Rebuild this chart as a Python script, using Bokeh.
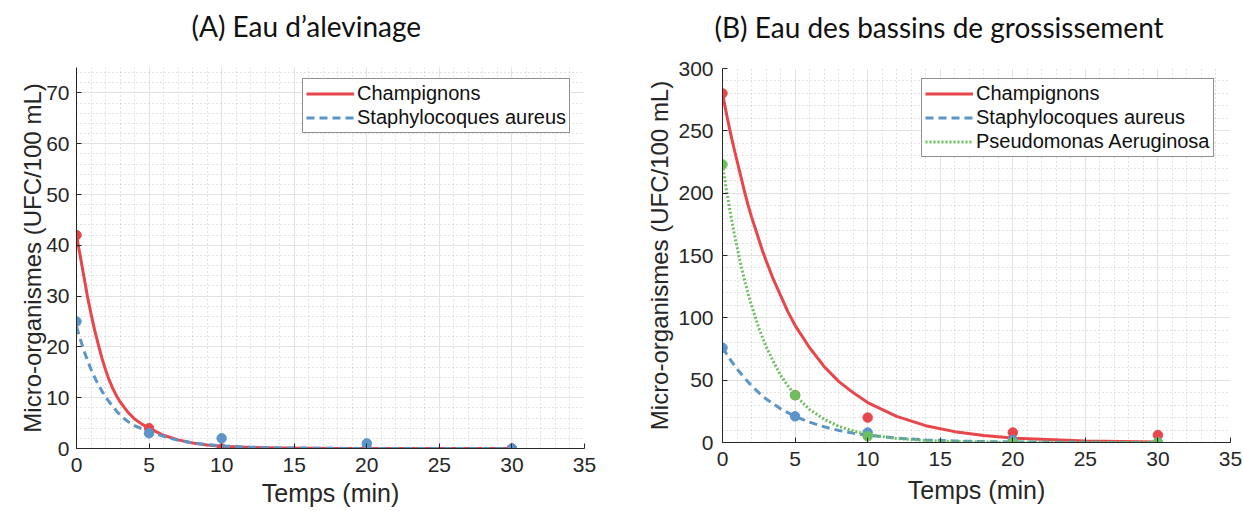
from bokeh.plotting import figure
from bokeh.layouts import row, column
from bokeh.models import SingleIntervalTicker, Legend, LegendItem, Range1d, Title
from bokeh.embed import file_html
from bokeh.resources import INLINE

# Sampling times (min)
t_obs = [0, 5, 10, 20, 30]

# (A) Eau d'alevinage - counts (UFC/100 mL)
a_champ = [42, 4, 0, 0, 0]
a_staph = [25, 3, 2, 1, 0]

# (B) Eau des bassins de grossissement - counts (UFC/100 mL)
b_champ = [280, 38, 20, 8, 6]
b_staph = [76, 21, 8, 2, 0]
b_pseudo = [223, 38, 5, 0, 0]

# Fitted decay curves, tabulated
t_fit = [0, 0.25, 0.5, 0.75, 1, 1.25, 1.5, 1.75, 2, 2.25, 2.5, 2.75, 3, 3.5, 4, 4.5, 5,
         6, 7, 8, 9, 10, 12, 14, 16, 18, 20, 25, 30]
a_champ_fit = [42, 38, 34, 30, 26.5, 23.3, 20.5, 17.8, 15.5, 13.5, 11.8, 10.4, 9.2, 7.3, 5.8, 4.8, 4.0,
               2.6, 1.7, 1.1, 0.7, 0.45, 0.2, 0.08, 0.03, 0.01, 0, 0, 0]
a_staph_fit = [24, 21.6, 19.4, 17.4, 15.6, 14.0, 12.6, 11.3, 10.2, 9.2, 8.3, 7.4, 6.6, 5.4, 4.5, 3.9, 3.4,
               2.4, 1.6, 1.1, 0.75, 0.5, 0.25, 0.12, 0.06, 0.03, 0.01, 0, 0]
b_champ_fit = [280, 265, 251, 238, 226, 214, 202, 191, 181, 172, 163, 154, 146, 131, 118, 105, 94,
               76, 61, 49, 40, 32, 21, 13.5, 8.7, 5.6, 3.6, 1.2, 0.4]
b_staph_fit = [76, 71.5, 67, 63, 59, 55.5, 52, 48.7, 45.5, 42.7, 40, 37.4, 35, 31, 27, 24, 21,
               16.3, 12.6, 9.7, 7.5, 5.8, 3.5, 2.1, 1.25, 0.75, 0.45, 0.12, 0.03]
b_pseudo_fit = [223, 204, 187, 171, 157, 143, 131, 120, 110, 101, 92, 84.5, 77, 65, 54, 45.5, 38,
                26.5, 18.7, 13, 9.2, 6.4, 3.2, 1.6, 0.77, 0.38, 0.19, 0.03, 0]

RED = "#E8464B"
BLUE = "#5B95C7"
GREEN = "#6CBF5E"
AXIS_FONT = "Liberation Sans"
TITLE_FONT = "Lato"
TEXT = "#262626"


def make_panel(title, title_offset, ymax, ystep, width, borders, series,
               legend_xy, ylabel_standoff, xlabel_standoff):
    left, right, top, bottom = borders
    p = figure(width=width, height=511, output_backend="svg", toolbar_location=None,
               x_range=Range1d(0, 35), y_range=Range1d(0, ymax),
               min_border_left=left, min_border_right=right,
               min_border_top=top, min_border_bottom=bottom)
    p.outline_line_color = None
    p.background_fill_color = "white"
    p.border_fill_color = "white"

    # blank band between the heading and the plot area, then the heading itself
    p.add_layout(Title(text=" ", text_font_size="1px", standoff=22), "above")
    p.add_layout(Title(text=title, align="left", offset=title_offset, standoff=0,
                       vertical_align="bottom",
                       text_font=TITLE_FONT, text_font_size="28px",
                       text_font_style="normal", text_color="#111111"), "above")

    p.xaxis.ticker = SingleIntervalTicker(interval=5, num_minor_ticks=5)
    p.yaxis.ticker = SingleIntervalTicker(interval=ystep, num_minor_ticks=5)

    for ax in (p.xaxis, p.yaxis):
        ax.axis_line_color = TEXT
        ax.major_tick_line_color = TEXT
        ax.major_tick_in = 5
        ax.major_tick_out = 0
        ax.minor_tick_in = 0
        ax.minor_tick_out = 0
        ax.major_label_text_font = AXIS_FONT
        ax.major_label_text_font_size = "21px"
        ax.major_label_text_color = TEXT
        ax.axis_label_text_font = AXIS_FONT
        ax.axis_label_text_font_style = "normal"
        ax.axis_label_text_color = TEXT

    p.xaxis.axis_label = "Temps (min)"
    p.xaxis.axis_label_text_font_size = "25px"
    p.xaxis.major_label_standoff = 9
    p.xaxis.axis_label_standoff = xlabel_standoff
    p.yaxis.axis_label = "Micro-organismes (UFC/100 mL)"
    p.yaxis.axis_label_text_font_size = "24px"
    p.yaxis.major_label_standoff = 7
    p.yaxis.axis_label_standoff = ylabel_standoff

    for g in (p.xgrid, p.ygrid):
        g.grid_line_color = "#e2e2e2"
        g.grid_line_width = 1
        g.minor_grid_line_color = "#c4c4c4"
        g.minor_grid_line_dash = "1 3"
        g.minor_grid_line_width = 1

    items = []
    for name, obs, fit, color, dash, lw in series:
        r = p.line(t_fit, fit, line_color=color, line_width=lw, line_dash=dash,
                   line_join="round")
        p.scatter(t_obs, obs, size=9.5, fill_color=color, line_color=color)
        items.append(LegendItem(label=name, renderers=[r]))

    legend = Legend(items=items, location=legend_xy)
    legend.label_text_font = AXIS_FONT
    legend.label_text_font_size = "20px"
    legend.label_text_color = "#111111"
    legend.label_height = 23
    legend.glyph_height = 23
    legend.glyph_width = 48
    legend.label_standoff = 3
    legend.spacing = 1
    legend.padding = 3
    legend.margin = 0
    legend.border_line_color = "#222222"
    legend.border_line_width = 1
    legend.background_fill_color = "white"
    legend.background_fill_alpha = 1
    p.add_layout(legend, "center")
    return p


p1 = make_panel(
    "(A) Eau d\u2019alevinage", 115, 75, 10, 620, (76, 36, 67, 63),
    [("Champignons", a_champ, a_champ_fit, RED, "solid", 3),
     ("Staphylocoques aureus", a_staph, a_staph_fit, BLUE, "8 5", 3)],
    (226, 315), -3, 4,
)
p2 = make_panel(
    "(B) Eau des bassins de grossissement", -8, 300, 50, 623, (102, 13, 68, 69),
    [("Champignons", b_champ, b_champ_fit, RED, "solid", 3),
     ("Staphylocoques aureus", b_staph, b_staph_fit, BLUE, "8 5", 3),
     ("Pseudomonas Aeruginosa", b_pseudo, b_pseudo_fit, GREEN, "2 2", 3)],
    (199, 285), 2, 7,
)
p2.yaxis.major_label_standoff = 9

layout = row(column(p1), column(p2))
open("out.html", "w").write(file_html(layout, INLINE))
